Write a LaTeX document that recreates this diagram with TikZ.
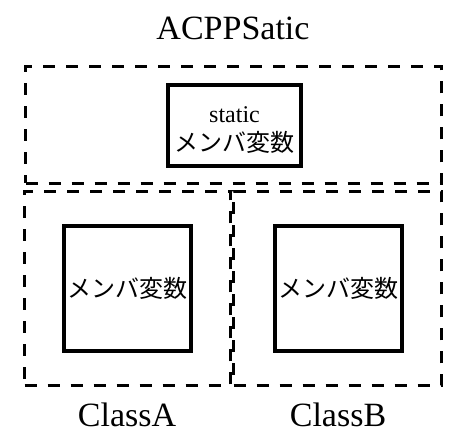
\documentclass[tikz,border=0pt]{standalone}
\usepackage{fontspec}
\setmainfont{Liberation Serif}
\newfontfamily\jpfont{Noto Sans CJK JP}
\begin{document}
\begin{tikzpicture}[x=1pt,y=-1pt,
  dashbox/.style={draw, line width=3pt, dash pattern=on 12pt off 11pt, inner sep=0pt},
  varbox/.style={draw, line width=4pt, inner sep=0pt, align=center, font=\fontsize{24}{28}\selectfont},
  vartext/.style={inner sep=0pt, align=center, font=\fontsize{24}{28}\selectfont},
  label/.style={font=\fontsize{34}{40}\selectfont, inner sep=0pt, anchor=base}]
\useasboundingbox (0,0) rectangle (466,443);
\node[dashbox, minimum width=416pt, minimum height=117pt] (top) at (233.5,125) {};
\node[dashbox, minimum width=206pt, minimum height=194pt] (clsA) at (127.5,288.5) {};
\node[dashbox, minimum width=208pt, minimum height=194pt] (clsB) at (337.5,288.5) {};
\node[varbox, minimum width=133pt, minimum height=81pt] (svar) at (234.5,125.5) {};
\node[vartext] (stext) at (234.5,130) {static\\[1pt]{\jpfont メンバ変数}};
\node[varbox, minimum width=127pt, minimum height=125pt] (avar) at (127.5,288.5) {\jpfont メンバ変数};
\node[varbox, minimum width=127pt, minimum height=125pt] (bvar) at (338.5,288.5) {\jpfont メンバ変数};
\node[label] (title) at (233,40) {ACPPSatic};
\node[label] (la) at (127,427) {ClassA};
\node[label] (lb) at (338,427) {ClassB};
\end{tikzpicture}
\end{document}
